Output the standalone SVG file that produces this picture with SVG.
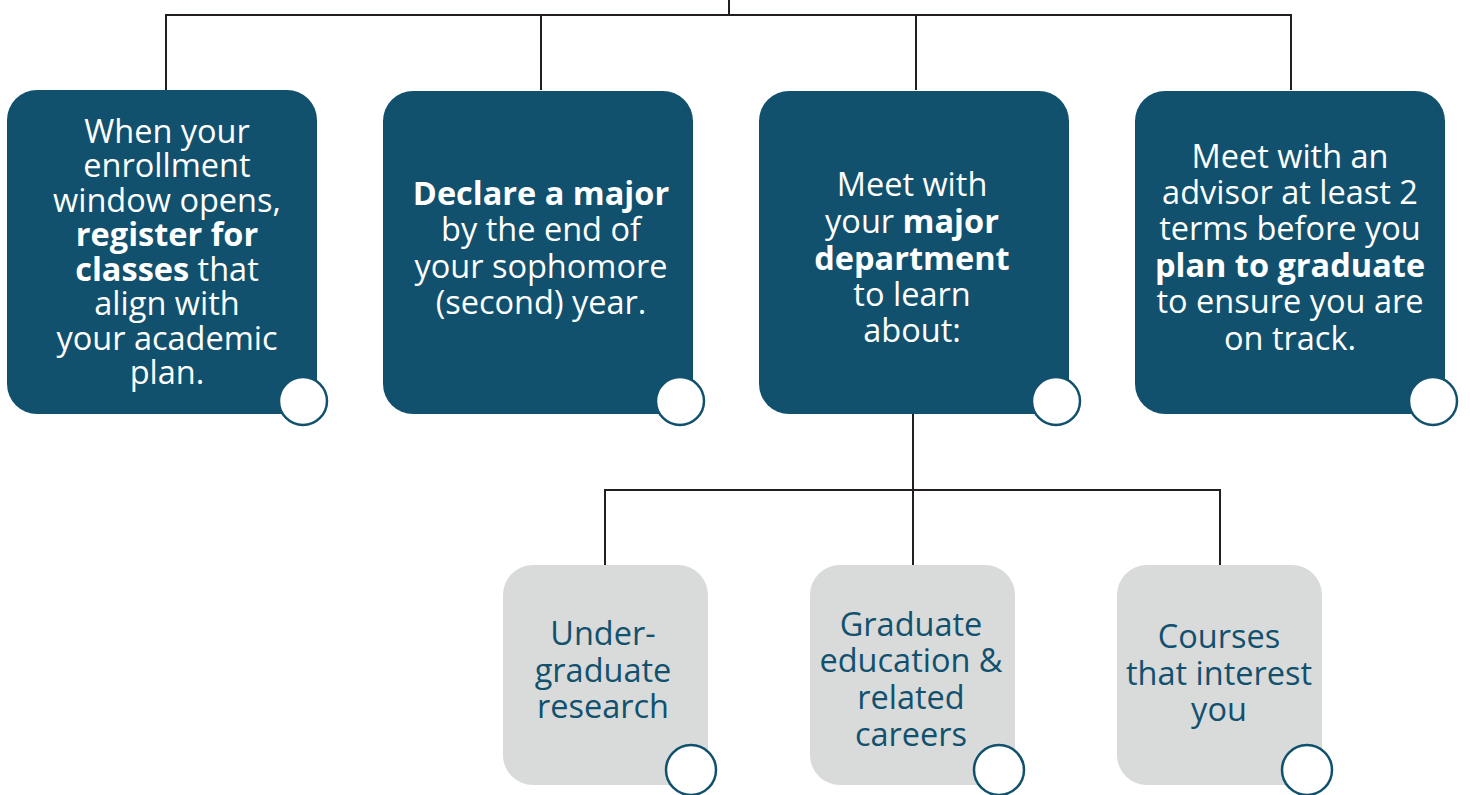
<svg xmlns="http://www.w3.org/2000/svg" width="1470" height="795" viewBox="0 0 1470 795">
<style>
.dark{fill:#11516E}
.light{fill:#D9DADA}
.conn{fill:none;stroke:#231F20;stroke-width:2}
.dot{fill:#fff;stroke:#11516E;stroke-width:2.5}
text{font-family:"Open Sans",Lato,sans-serif;font-size:32.5px;text-anchor:middle}
.w{fill:#fff}
.t{fill:#11516E}
.b{font-weight:bold}
</style>
<rect width="1470" height="795" fill="#fff"/>
<g id="connectors">
<path class="conn" d="M729 0V15M166 90V15H1291V90M541 15V90M916 15V90"/>
<path class="conn" d="M913 414V490M605 565V490H1220V565M913 490V565"/>
</g>
<g id="node1">
<path class="dark" d="M37 90H287A30 30 0 0 1 317 120V414H37A30 30 0 0 1 7 384V120A30 30 0 0 1 37 90Z"/>
<circle class="dot" cx="303" cy="401" r="24"/>
<text class="w" x="167"><tspan x="167" y="143">When your</tspan><tspan x="167" y="177">enrollment</tspan><tspan x="167" y="212">window opens,</tspan><tspan x="167" y="246" class="b">register for</tspan><tspan x="167" y="281"><tspan class="b">classes</tspan> that</tspan><tspan x="167" y="315">align with</tspan><tspan x="167" y="350">your academic</tspan><tspan x="167" y="384">plan.</tspan></text>
</g>
<g id="node2">
<path class="dark" d="M413 91H663A30 30 0 0 1 693 121V414H413A30 30 0 0 1 383 384V121A30 30 0 0 1 413 91Z"/>
<circle class="dot" cx="680" cy="401" r="24"/>
<text class="w"><tspan x="541" y="205" class="b">Declare a major</tspan><tspan x="541" y="241">by the end of</tspan><tspan x="541" y="278">your sophomore</tspan><tspan x="541" y="314">(second) year.</tspan></text>
</g>
<g id="node3">
<path class="dark" d="M789 91H1039A30 30 0 0 1 1069 121V414H789A30 30 0 0 1 759 384V121A30 30 0 0 1 789 91Z"/>
<circle class="dot" cx="1056" cy="401" r="24"/>
<text class="w"><tspan x="912" y="196">Meet with</tspan><tspan x="912" y="233">your <tspan class="b">major</tspan></tspan><tspan x="912" y="270" class="b">department</tspan><tspan x="912" y="306">to learn</tspan><tspan x="912" y="342">about:</tspan></text>
</g>
<g id="node4">
<path class="dark" d="M1165 91H1415A30 30 0 0 1 1445 121V414H1165A30 30 0 0 1 1135 384V121A30 30 0 0 1 1165 91Z"/>
<circle class="dot" cx="1433" cy="401" r="24"/>
<text class="w"><tspan x="1290" y="168">Meet with an</tspan><tspan x="1290" y="204">advisor at least 2</tspan><tspan x="1290" y="240">terms before you</tspan><tspan x="1290" y="277" class="b">plan to graduate</tspan><tspan x="1290" y="313">to ensure you are</tspan><tspan x="1290" y="350">on track.</tspan></text>
</g>
<g id="node5">
<path class="light" d="M533 565H678A30 30 0 0 1 708 595V785H533A30 30 0 0 1 503 755V595A30 30 0 0 1 533 565Z"/>
<circle class="dot" cx="691" cy="770" r="25"/>
<text class="t"><tspan x="603" y="645">Under-</tspan><tspan x="603" y="682">graduate</tspan><tspan x="603" y="718">research</tspan></text>
</g>
<g id="node6">
<path class="light" d="M840 565H985A30 30 0 0 1 1015 595V785H840A30 30 0 0 1 810 755V595A30 30 0 0 1 840 565Z"/>
<circle class="dot" cx="999" cy="770" r="25"/>
<text class="t"><tspan x="911" y="636">Graduate</tspan><tspan x="911" y="672">education &amp;</tspan><tspan x="911" y="709">related</tspan><tspan x="911" y="746">careers</tspan></text>
</g>
<g id="node7">
<path class="light" d="M1147 565H1292A30 30 0 0 1 1322 595V785H1147A30 30 0 0 1 1117 755V595A30 30 0 0 1 1147 565Z"/>
<circle class="dot" cx="1307" cy="770" r="25"/>
<text class="t"><tspan x="1219" y="648">Courses</tspan><tspan x="1219" y="685">that interest</tspan><tspan x="1219" y="721">you</tspan></text>
</g>
</svg>
